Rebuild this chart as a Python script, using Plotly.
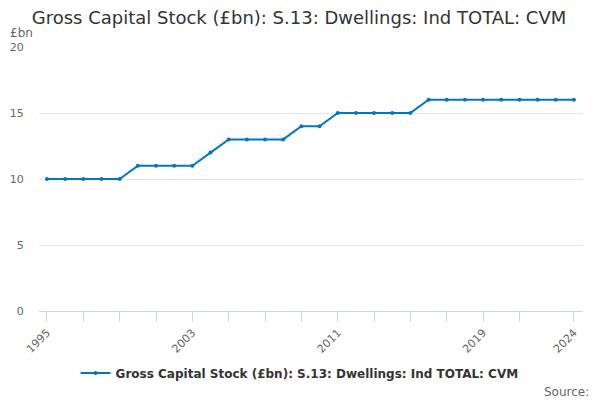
import plotly.graph_objects as go

years = list(range(1995, 2025))
values = [10, 10, 10, 10, 10,
          11, 11, 11, 11,
          12,
          13, 13, 13, 13,
          14, 14,
          15, 15, 15, 15, 15,
          16, 16, 16, 16, 16, 16, 16, 16, 16]
tick_vals = [1995, 1997, 1999, 2001, 2003, 2005, 2007, 2009, 2011, 2013, 2015, 2017, 2019, 2021, 2024]
tick_text = [str(y) if y in (1995, 2003, 2011, 2019, 2024) else "" for y in tick_vals]
series_name = "Gross Capital Stock (£bn): S.13: Dwellings: Ind TOTAL: CVM"

FONT = "DejaVu Sans"
fig = go.Figure()
fig.add_trace(go.Scatter(
    x=years, y=values, mode="lines+markers", name=series_name,
    line=dict(color="#0077c0", width=2),
    marker=dict(color="#0077c0", size=4),
))
fig.update_layout(
    width=600, height=400,
    paper_bgcolor="white", plot_bgcolor="white",
    margin=dict(l=31, r=25, t=39, b=97),
    font=dict(family=FONT, color="#666666", size=11),
    title=dict(text="Gross Capital Stock (£bn): S.13: Dwellings: Ind TOTAL: CVM",
               x=0.485, xanchor="center", y=0.975, yanchor="middle",
               font=dict(family=FONT, size=18, color="#333333")),
    showlegend=True,
    legend=dict(orientation="h", x=0.479, xanchor="center", y=-0.235, yanchor="middle",
                font=dict(family=FONT, size=12, color="#333333", weight="bold")),
    xaxis=dict(range=[1994.56, 2024.5], tickmode="array", tickvals=tick_vals, ticktext=tick_text,
               tickangle=-45, ticks="outside", ticklen=10, tickcolor="#ccd6eb",
               showline=True, linecolor="#ccd6eb", showgrid=False, zeroline=False,
               automargin=False, tickfont=dict(size=11, color="#666666")),
    yaxis=dict(range=[0, 20], tickvals=[0, 5, 10, 15, 20], showgrid=True, gridcolor="#e6e6e6",
               zeroline=False, showline=False, ticks="outside", ticklen=12,
               tickcolor="rgba(0,0,0,0)", automargin=False,
               tickfont=dict(size=11, color="#666666")),
)
fig.add_annotation(text="£bn", xref="paper", yref="paper", x=-0.0575, y=1.053,
                   xanchor="left", yanchor="middle", showarrow=False,
                   font=dict(family=FONT, size=12, color="#666666"))
fig.add_annotation(text="Source:", xref="paper", yref="paper", x=1.015, y=-0.306,
                   xanchor="right", yanchor="middle", showarrow=False,
                   font=dict(family=FONT, size=12, color="#666666"))
fig.write_html("out.html")
